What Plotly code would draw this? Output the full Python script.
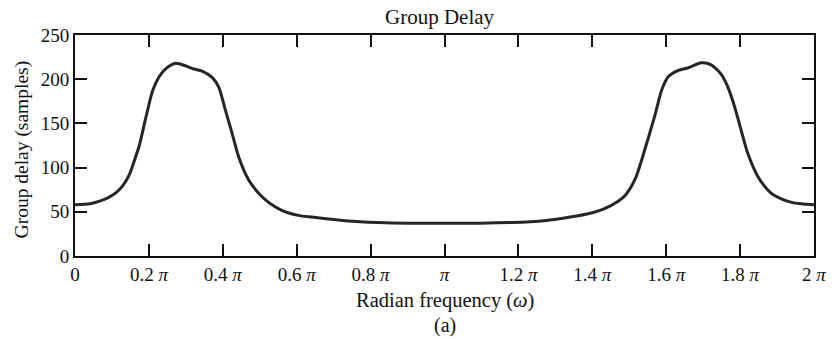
import plotly.graph_objects as go

# frequency in units of pi, group delay in samples
freq_pi = [0.0, 0.04, 0.067, 0.09, 0.112, 0.13, 0.148, 0.16, 0.174, 0.192, 0.210, 0.228,
           0.246, 0.273, 0.300, 0.318, 0.344, 0.371, 0.389, 0.407, 0.425, 0.443, 0.470,
           0.497, 0.523, 0.558, 0.604, 0.64, 0.73, 0.82, 1.0, 1.18, 1.27, 1.34, 1.40,
           1.43, 1.47, 1.49, 1.517, 1.544, 1.570, 1.588, 1.606, 1.633, 1.660,
           1.696, 1.723, 1.750, 1.767, 1.785, 1.803, 1.821, 1.848, 1.866, 1.884, 1.91,
           1.937, 1.965, 2.0]
delay = [58, 59, 62, 66, 72, 80, 93, 107, 125, 157, 187, 203,
         212, 218, 215, 212, 209, 202, 191, 165, 139, 112, 86,
         71, 61, 52, 46, 44, 40, 38, 37, 38, 40, 44, 49,
         53, 62, 69, 88, 123, 160, 188, 203, 210, 213,
         218.5, 216, 205, 191, 169, 142, 116, 90, 79, 71, 65,
         61, 59, 58]

x_tickvals = [0, 0.2, 0.4, 0.6, 0.8, 1.0, 1.2, 1.4, 1.6, 1.8, 2.0]
x_ticktext = ["0", "0.2 <i>π</i>", "0.4 <i>π</i>", "0.6 <i>π</i>", "0.8 <i>π</i>", "<i>π</i>",
              "1.2 <i>π</i>", "1.4 <i>π</i>", "1.6 <i>π</i>", "1.8 <i>π</i>", "2 <i>π</i>"]
y_tickvals = [0, 50, 100, 150, 200, 250]

W, H = 838, 339
L, R, T, B = 75, 18, 35, 83
font_family = "Liberation Serif, Times New Roman, serif"
ink = "#111111"

fig = go.Figure()
fig.add_trace(go.Scatter(x=freq_pi, y=delay, mode="lines",
                         line=dict(color="#262626", width=3, shape="spline", smoothing=0.7),
                         hoverinfo="skip", showlegend=False))

axis_common = dict(showline=True, linecolor=ink, linewidth=2, mirror="allticks",
                   ticks="inside", ticklen=12, tickwidth=2, tickcolor=ink,
                   showgrid=False, zeroline=False,
                   tickfont=dict(family=font_family, size=19, color=ink))

fig.update_xaxes(range=[0, 2], tickvals=x_tickvals, ticktext=x_ticktext, **axis_common)
fig.update_yaxes(range=[0, 250], tickvals=y_tickvals, **axis_common)

pw = W - L - R
ph = H - T - B

def px_x(p):
    return (p - L) / pw

def px_y(p):
    return (H - B - p) / ph

fig.update_layout(
    width=W, height=H,
    margin=dict(l=L, r=R, t=T, b=B, pad=0),
    paper_bgcolor="white", plot_bgcolor="white",
    font=dict(family=font_family, color=ink),
    annotations=[
        dict(text="Group Delay", x=px_x(443), y=px_y(17), xref="paper", yref="paper",
             showarrow=False, xanchor="center", yanchor="middle",
             font=dict(family=font_family, size=21, color=ink)),
        dict(text="Radian frequency (<i>ω</i>)", x=px_x(448), y=px_y(300), xref="paper", yref="paper",
             showarrow=False, xanchor="center", yanchor="middle",
             font=dict(family=font_family, size=20.5, color=ink)),
        dict(text="(a)", x=px_x(448), y=px_y(325), xref="paper", yref="paper",
             showarrow=False, xanchor="center", yanchor="middle",
             font=dict(family=font_family, size=20, color=ink)),
        dict(text="Group delay (samples)", x=px_x(22), y=px_y(149), xref="paper", yref="paper",
             showarrow=False, xanchor="center", yanchor="middle", textangle=-90,
             font=dict(family=font_family, size=19.5, color=ink)),
    ],
)

fig.write_html("out.html")
